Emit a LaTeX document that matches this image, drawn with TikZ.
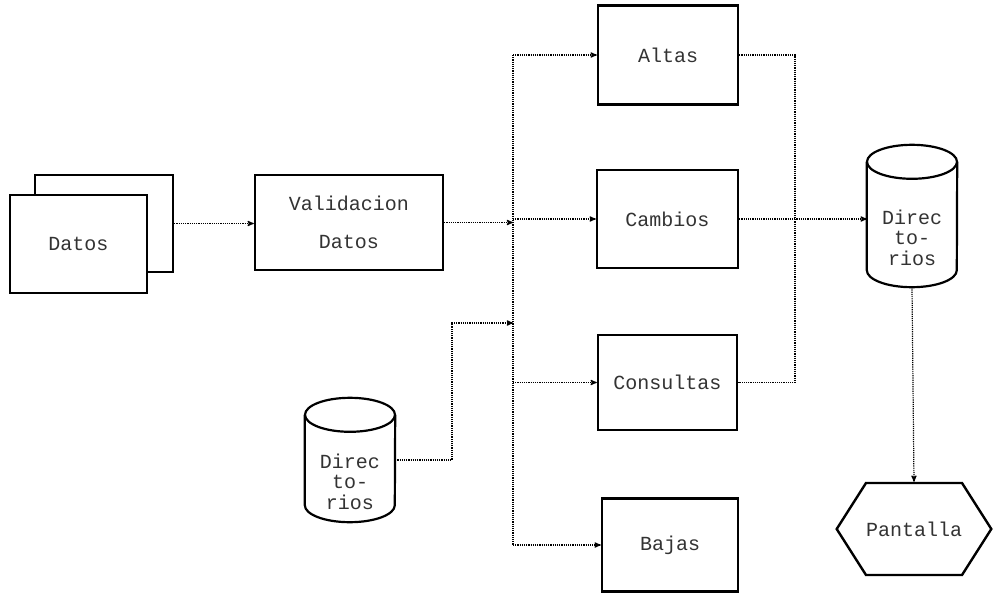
\documentclass[tikz,border=0pt]{standalone}
\usepackage{fontspec}
\newfontfamily\dotfont{Liberation Mono}
\usetikzlibrary{arrows,shapes.symbols}

% cilindro de archivo alrededor de un nodo
\newcommand\drawdb[1]{%
  \draw[line width=2.2pt] (#1.north) ++(0,17) ellipse [x radius=45pt,y radius=17pt];
  \draw[line width=2.2pt] ([yshift=-17pt]#1.north west) -- ([yshift=17pt]#1.south west)
    arc[start angle=180,end angle=360,x radius=45pt,y radius=17pt]
    -- ([yshift=-17pt]#1.north east);}
% texto bajado dentro del cilindro
\newcommand\dblabel[1]{\raisebox{-30pt}[0pt][0pt]{\begin{tabular}{@{}c@{}}#1\end{tabular}}}

\begin{document}
\begin{tikzpicture}[x=1pt,y=-1pt,>=stealth',
    box/.style={draw,line width=2.4pt,fill=white,inner sep=0pt,align=center,
      font=\dotfont\fontsize{20}{20}\selectfont,text=black!80},
    db/.style={minimum width=90pt,inner sep=0pt,
      font=\dotfont\fontsize{20}{20}\selectfont,text=black!80},
    flow/.style={densely dotted,line width=1.2pt}]
    \useasboundingbox (0,0) rectangle (994,597);

    % entrada
    \node[box,minimum width=138pt,minimum height=97pt] (datosb) at (104,223.5) {};
    \node[box,minimum width=137pt,minimum height=98pt] (datos) at (78.5,244) {Datos};
    \node[box,minimum width=188pt,minimum height=95pt] (valid) at (349,222.5)
      {Validacion\\[18pt]Datos};

    % procesos
    \node[box,minimum width=140pt,minimum height=99pt] (altas) at (668,55) {Altas};
    \node[box,minimum width=141pt,minimum height=98pt] (cambios) at (667.5,219) {Cambios};
    \node[box,minimum width=139pt,minimum height=95pt] (consultas) at (667.5,382.5) {Consultas};
    \node[box,minimum width=136pt,minimum height=93pt] (bajas) at (670,545) {Bajas};

    % archivos
    \node[db,minimum height=124pt] (dirL) at (350,460) {\dblabel{Direc\\to-\\rios}};
    \drawdb{dirL}
    \node[db,minimum height=142pt] (dirR) at (912,216) {\dblabel{Direc\\to-\\rios}};
    \drawdb{dirR}
    \node[box,signal,signal to=east and west,signal pointer angle=115,
      minimum width=142pt,minimum height=92pt] (pant) at (914,529) {Pantalla};

    \coordinate (busTop) at (513,55);
    \coordinate (busCam) at (513,219);
    \coordinate (busDir) at (513,323);
    \coordinate (busCon) at (513,382.5);
    \coordinate (busBot) at (513,545);
    \coordinate (dirTurn) at (452,323);
    \coordinate (rJoin) at (795,219);

    \path[flow,->]
    (datosb.east) edge (valid.west |- datosb.east)
    (valid.east) edge (busCam |- valid.east)
    (busTop) edge (altas.west)
    (busCam) edge (cambios.west)
    (busCon) edge (consultas.west)
    (busBot) edge (bajas.west)
    (cambios.east) edge (dirR.west |- cambios.east)
    (dirR.south) edge (pant.north)
    ;
    \draw[flow] (busTop) -- (busBot);
    \draw[flow,->] (dirL.east) -| (dirTurn) -- (busDir);
    \draw[flow] (altas.east) -| (rJoin) |- (consultas.east);
  \end{tikzpicture}
\end{document}
